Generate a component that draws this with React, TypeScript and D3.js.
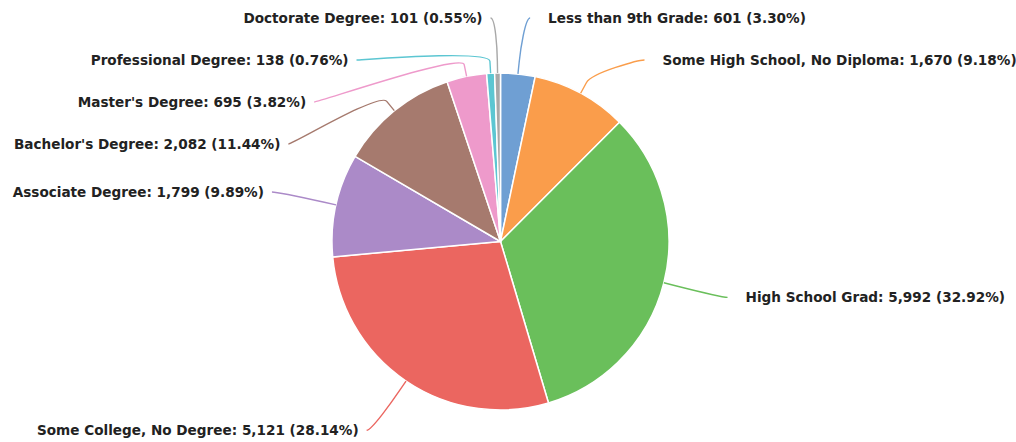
import React from "react";
import * as d3 from "d3";

// education attainment counts, clockwise from 12 o'clock
const categories = [
  "Less than 9th Grade",
  "Some High School, No Diploma",
  "High School Grad",
  "Some College, No Degree",
  "Associate Degree",
  "Bachelor's Degree",
  "Master's Degree",
  "Professional Degree",
  "Doctorate Degree",
];
const counts = [601, 1670, 5992, 5121, 1799, 2082, 695, 138, 101];
const colors = [
  "#6f9fd3",
  "#fa9d4b",
  "#6abf5b",
  "#eb6660",
  "#ab8ac8",
  "#a67a6e",
  "#ee9acb",
  "#5cc6d2",
  "#a8a8a8",
];

const W = 1016;
const H = 442;
const cx = 500.5;
const cy = 241.5;
const radius = 168.5;
const labelR = 228; // radius + label distance
const labelPad = 6;
const breakOffset = 12;
const slot = 42; // vertical room per label
const topY = 18;
const bottomY = 432;

type Label = {
  i: number;
  angle: number;
  left: boolean;
  natY: number;
  y: number;
  x: number;
};

const App: React.FC = () => {
  const total = d3.sum(counts);
  const arcs = d3.pie<number>().sort(null).value((d) => d)(counts);
  const arcGen = d3
    .arc<d3.PieArcDatum<number>>()
    .innerRadius(0)
    .outerRadius(radius);

  const fmt = d3.format(",");

  // label placement, roughly the way highcharts does it
  const labels: Label[] = arcs.map((d, i) => {
    const angle = (d.startAngle + d.endAngle) / 2;
    const natY = cy - labelR * Math.cos(angle);
    return { i, angle, left: angle > Math.PI, natY, y: natY, x: 0 };
  });

  [true, false].forEach((side) => {
    const group = labels
      .filter((l) => l.left === side)
      .sort((a, b) => a.natY - b.natY);
    let prev = -Infinity;
    group.forEach((l) => {
      l.y = Math.max(l.natY, prev + slot, topY);
      prev = l.y;
    });
    let next = Infinity;
    for (let k = group.length - 1; k >= 0; k--) {
      const l = group[k];
      l.y = Math.min(l.y, next - slot, bottomY);
      next = l.y;
    }
  });

  labels.forEach((l) => {
    const yy = l.y <= topY + 2 || l.y >= bottomY - 2 ? l.natY : l.y;
    const s = Math.max(-1, Math.min(1, (yy - cy) / labelR));
    const dx = Math.cos(Math.asin(s)) * labelR + labelPad;
    l.x = cx + (l.left ? -dx : dx);
  });

  const connector = (l: Label) => {
    const a = l.angle;
    const tx = cx + radius * Math.sin(a);
    const ty = cy - radius * Math.cos(a);
    const bx = cx + (radius + breakOffset) * Math.sin(a);
    const by = cy - (radius + breakOffset) * Math.cos(a);
    const p = d3.path();
    p.moveTo(l.x, l.y);
    p.bezierCurveTo(
      l.x + (l.left ? 5 : -5),
      l.y,
      2 * bx - tx,
      2 * by - ty,
      bx,
      by
    );
    p.lineTo(tx, ty);
    return p.toString();
  };

  return (
    <svg
      width={W}
      height={H}
      style={{ position: "absolute", left: 0, top: 0, background: "#fff" }}
    >
      <g transform={`translate(${cx},${cy})`}>
        {arcs.map((d, i) => (
          <path
            key={categories[i]}
            d={arcGen(d) || ""}
            fill={colors[i]}
            stroke="#ffffff"
            strokeWidth={1.5}
            strokeLinejoin="round"
          />
        ))}
      </g>
      {labels.map((l) => (
        <path
          key={"c" + l.i}
          d={connector(l)}
          fill="none"
          stroke={colors[l.i]}
          strokeWidth={1.4}
        />
      ))}
      {labels.map((l) => (
        <text
          key={"t" + l.i}
          x={l.left ? l.x - 8 : l.x + 18}
          y={l.y}
          dy="0.36em"
          textAnchor={l.left ? "end" : "start"}
          fontFamily="'DejaVu Sans', sans-serif"
          fontWeight="bold"
          fontSize={13.6}
          fill="#222222"
        >
          {`${categories[l.i]}: ${fmt(counts[l.i])} (${(
            (counts[l.i] / total) *
            100
          ).toFixed(2)}%)`}
        </text>
      ))}
    </svg>
  );
};

export default App;
